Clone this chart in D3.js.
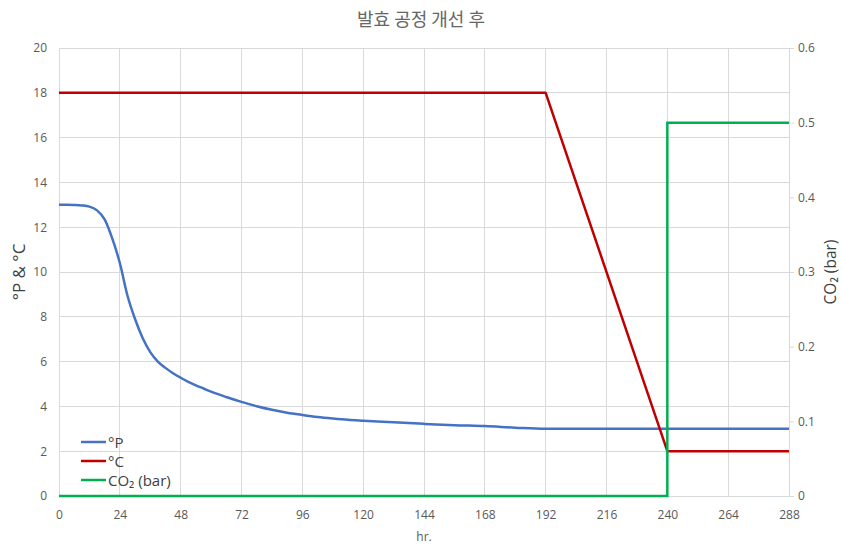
<!DOCTYPE html>
<html>
<head>
<meta charset="utf-8">
<script src="https://cdn.jsdelivr.net/npm/d3@7"></script>
<style>
  html, body { margin: 0; padding: 0; background: #fff; }
  svg { display: block; }
</style>
</head>
<body>
<div id="chart"></div>
<script>
// Fermentation run: gravity (°P), temperature (°C) and CO2 pressure (bar) over time (hr.)
const hoursP = [0, 3, 6, 9, 12, 15, 18, 21, 24, 27, 30, 33, 36, 39, 42, 45, 48, 51, 54, 57, 60, 66, 72, 78, 84, 90, 96, 102, 108, 114, 120, 132, 144, 156, 168, 180, 192, 216, 240, 264, 288];
const plato  = [13.0, 13.0, 12.99, 12.97, 12.92, 12.75, 12.35, 11.5, 10.4, 8.95, 7.9, 7.05, 6.42, 6.0, 5.72, 5.48, 5.28, 5.1, 4.94, 4.8, 4.66, 4.42, 4.2, 4.01, 3.85, 3.72, 3.62, 3.53, 3.46, 3.4, 3.36, 3.29, 3.22, 3.16, 3.12, 3.05, 3.0, 3.0, 3.0, 3.0, 3.0];

const hoursT = [0, 192, 240, 288];
const temp   = [18, 18, 2, 2];

const hoursC = [0, 240, 240, 288];
const co2    = [0, 0, 0.5, 0.5];

const xTicks = [0, 24, 48, 72, 96, 120, 144, 168, 192, 216, 240, 264, 288];
const yLeftTicks = [0, 2, 4, 6, 8, 10, 12, 14, 16, 18, 20];
const yRightTicks = [0, 0.1, 0.2, 0.3, 0.4, 0.5, 0.6];

const seriesNames = ["°P", "°C", "CO₂ (bar)"];
const seriesColors = ["#4472C4", "#C00000", "#00B050"];

const W = 842, H = 550;
const m = { left: 59, right: 53, top: 48, bottom: 54 };
const pw = W - m.left - m.right, ph = H - m.top - m.bottom;

const svg = d3.select("#chart").append("svg").attr("width", W).attr("height", H);
const g = svg.append("g").attr("transform", `translate(${m.left},${m.top})`);

const x = d3.scaleLinear().domain([0, 288]).range([0, pw]);
const yL = d3.scaleLinear().domain([0, 20]).range([ph, 0]);
const yR = d3.scaleLinear().domain([0, 0.6]).range([ph, 0]);

const gridColor = "#d9d9d9";
const textColor = "#595959";
const font = "'Open Sans', 'Noto Sans', sans-serif";

// grid
g.append("g").selectAll("line").data(yLeftTicks).join("line")
  .attr("x1", 0).attr("x2", pw).attr("y1", d => yL(d)).attr("y2", d => yL(d))
  .attr("stroke", gridColor).attr("stroke-width", 1).attr("shape-rendering", "crispEdges");
g.append("g").selectAll("line").data(xTicks).join("line")
  .attr("x1", d => x(d)).attr("x2", d => x(d)).attr("y1", 0).attr("y2", ph)
  .attr("stroke", gridColor).attr("stroke-width", 1).attr("shape-rendering", "crispEdges");

// axes
const xAxis = g.append("g").attr("transform", `translate(0,${ph})`)
  .call(d3.axisBottom(x).tickValues(xTicks).tickSize(0).tickPadding(14));
const yAxisL = g.append("g")
  .call(d3.axisLeft(yL).tickValues(yLeftTicks).tickSize(0).tickPadding(12));
const yAxisR = g.append("g").attr("transform", `translate(${pw},0)`)
  .call(d3.axisRight(yR).tickValues(yRightTicks).tickSize(5).tickPadding(4).tickFormat(d => d === 0 ? "0" : d3.format(".1f")(d)));

[xAxis, yAxisL, yAxisR].forEach(a => {
  a.selectAll(".domain").attr("stroke", gridColor);
  a.selectAll(".tick line").attr("stroke", gridColor);
  a.selectAll("text").attr("fill", textColor).style("font-family", font).style("font-size", "12px");
});
yAxisL.select(".domain").remove();

// series
const lineP = d3.line().x((d, i) => x(hoursP[i])).y(d => yL(d)).curve(d3.curveMonotoneX);
const lineT = d3.line().x((d, i) => x(hoursT[i])).y(d => yL(d));
const lineC = d3.line().x((d, i) => x(hoursC[i])).y(d => yR(d));

g.append("path").datum(plato).attr("d", lineP).attr("fill", "none")
  .attr("stroke", seriesColors[0]).attr("stroke-width", 2.5).attr("stroke-linejoin", "round");
g.append("path").datum(temp).attr("d", lineT).attr("fill", "none")
  .attr("stroke", seriesColors[1]).attr("stroke-width", 2.5).attr("stroke-linejoin", "round");
g.append("path").datum(co2).attr("d", lineC).attr("fill", "none")
  .attr("stroke", seriesColors[2]).attr("stroke-width", 2.5).attr("stroke-linejoin", "miter");

// titles
svg.append("text").attr("x", 421).attr("y", 26).attr("text-anchor", "middle")
  .attr("fill", "#666").style("font-family", "'Noto Sans CJK KR', sans-serif").style("font-size", "18px")
  .text("발효 공정 개선 후");
svg.append("text").attr("transform", `translate(25,${m.top + ph / 2}) rotate(-90)`).attr("text-anchor", "middle")
  .attr("fill", "#404040").style("font-family", font).style("font-size", "17px").text("°P & °C");
svg.append("text").attr("transform", `translate(836,${m.top + ph / 2}) rotate(-90)`).attr("text-anchor", "middle")
  .attr("fill", "#404040").style("font-family", font).style("font-size", "15.5px").text("CO₂ (bar)");
svg.append("text").attr("x", m.left + pw / 2).attr("y", 541).attr("text-anchor", "middle")
  .attr("fill", textColor).style("font-family", font).style("font-size", "12px").text("hr.");

// legend
const legend = g.append("g").attr("transform", `translate(22,${ph - 54})`);
seriesNames.forEach((name, i) => {
  const row = legend.append("g").attr("transform", `translate(0,${i * 19})`);
  row.append("line").attr("x1", 0).attr("x2", 25).attr("y1", 0).attr("y2", 0)
    .attr("stroke", seriesColors[i]).attr("stroke-width", 2.5);
  row.append("text").attr("x", 27).attr("y", 6).attr("fill", "#404040")
    .style("font-family", font).style("font-size", "15px").text(name);
});
</script>
</body>
</html>
